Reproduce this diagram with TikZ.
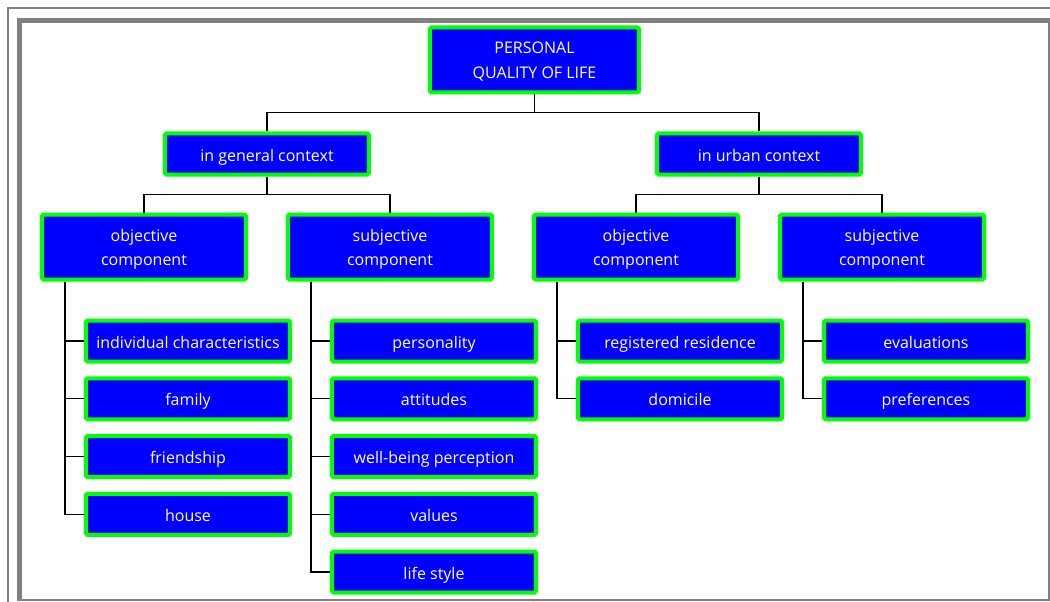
\documentclass[tikz,border=0pt]{standalone}
\usepackage{fontspec}
\setmainfont{Open Sans}
\usetikzlibrary{positioning}
\usetikzlibrary{calc}

\definecolor{boxblue}{RGB}{0,0,255}
\definecolor{boxgreen}{RGB}{0,255,0}
\definecolor{framegray}{RGB}{128,128,128}

\tikzset{
  box/.style={draw=boxgreen, fill=boxblue, line width=4pt, rounded corners=1.5pt,
    text=white, align=center, inner sep=0pt, minimum width=204pt,
    font=\fontsize{16}{24.5}\selectfont},
  tall/.style={box, minimum height=65pt, text height=41pt, text depth=4pt},
  flat/.style={box, minimum height=41pt, text height=16pt, text depth=2pt},
  conn/.style={draw=black, line width=1.2pt},
}

\begin{document}
\begin{tikzpicture}[x=1pt, y=1pt]
        % frame
        \useasboundingbox (-534.5,60) rectangle (515.5,-542);
        \draw[framegray, line width=1.5pt] (-526.5,-542) -- (-526.5,52) -- (515.5,52);
        \draw[framegray, line width=5pt] (-515,-540) -- (-515,39.5) -- (515.5,39.5);
        \draw[framegray, line width=2pt] (514.5,42) -- (514.5,-540) -- (-517.5,-540);

        \node[tall, minimum width=209pt] (pq) at (0,0) {PERSONAL\\QUALITY OF LIFE};
        \node[flat, below=37pt of pq, xshift=-267.5pt] (gen) {in general context};
        \node[flat, below=37pt of pq, xshift=224.5pt] (urb) {in urban context};

        \node[tall, below=36pt of gen, xshift=-123pt] (gobj) {objective\\component};
        \node[tall, below=36pt of gen, xshift=123pt] (gsub) {subjective\\component};
        \node[tall, below=36pt of urb, xshift=-123pt] (uobj) {objective\\component};
        \node[tall, below=36pt of urb, xshift=123pt] (usub) {subjective\\component};

        \draw[conn] (pq.south) -- ++(0,-18) -| (gen.north);
        \draw[conn] (pq.south) -- ++(0,-18) -| (urb.north);
        \draw[conn] (gen.south) -- ++(0,-18) -| (gobj.north);
        \draw[conn] (gen.south) -- ++(0,-18) -| (gsub.north);
        \draw[conn] (urb.south) -- ++(0,-18) -| (uobj.north);
        \draw[conn] (urb.south) -- ++(0,-18) -| (usub.north);

        % leaves
        \foreach \comp/\items in {gobj/{individual characteristics,family,friendship,house},
                                  gsub/{personality,attitudes,well-being perception,values,life style},
                                  uobj/{registered residence,domicile},
                                  usub/{evaluations,preferences}} {
          \foreach \t [count=\i] in \items {
            \pgfmathsetmacro\d{37+(\i-1)*57.75}
            \node[flat, below=\d pt of \comp, xshift=44pt] (\comp l\i) {\t};
            \draw[conn] ([xshift=25pt]\comp.south west) |- (\comp l\i.west);
          }
        }
\end{tikzpicture}
\end{document}
